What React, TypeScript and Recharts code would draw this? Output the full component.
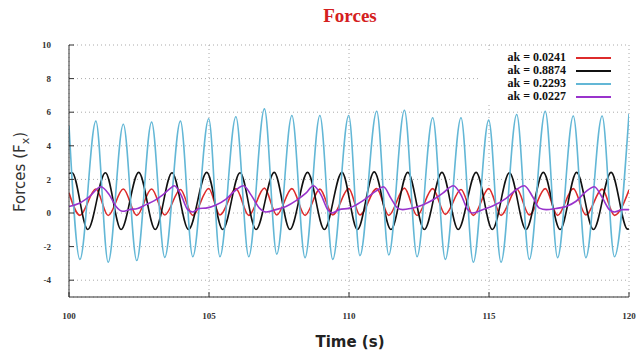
import { FC } from 'react';
import { LineChart, Line, XAxis, YAxis, CartesianGrid, Legend } from 'recharts';

// cyan and red share the same 1 s rhythm
const fastTimes = [100.0, 100.39, 100.96, 101.4, 101.94, 102.42, 102.95, 103.42, 103.98, 104.42, 104.99, 105.39, 105.96, 106.42, 106.98, 107.42, 107.96, 108.43, 108.96, 109.42, 109.99, 110.39, 110.99, 111.42, 111.98, 112.43, 112.99, 113.44, 114.0, 114.44, 114.99, 115.43, 115.99, 116.44, 117.01, 117.45, 118.01, 118.46, 119.04, 119.48, 120.0];
const cyanForce = [5.2, -2.76, 5.47, -2.93, 5.28, -2.83, 5.41, -2.64, 5.47, -2.6, 5.61, -2.6, 5.73, -2.6, 6.2, -2.45, 5.8, -2.66, 5.8, -2.76, 5.8, -2.54, 6.06, -2.5, 6.12, -2.6, 5.67, -2.76, 5.67, -2.93, 5.53, -2.93, 5.86, -2.76, 6.06, -2.66, 5.77, -2.66, 5.77, -2.6, 5.9];
const redForce = [1.2, -0.14, 1.43, -0.15, 1.43, -0.14, 1.43, -0.12, 1.4, -0.14, 1.46, -0.12, 1.45, -0.14, 1.48, -0.12, 1.45, -0.14, 1.42, -0.12, 1.45, -0.12, 1.45, -0.14, 1.48, -0.15, 1.45, -0.08, 1.4, -0.14, 1.45, -0.14, 1.43, -0.12, 1.45, -0.14, 1.45, -0.12, 1.42, -0.14, 1.37];

const blackTimes = [100.0, 100.11, 100.67, 101.3, 101.86, 102.49, 103.08, 103.68, 104.27, 104.92, 105.49, 106.11, 106.68, 107.33, 107.89, 108.52, 109.12, 109.75, 110.3, 110.9, 111.5, 112.1, 112.69, 113.32, 113.9, 114.54, 115.12, 115.73, 116.32, 116.94, 117.54, 118.13, 118.73, 119.36, 119.95, 120.0];
const blackForce = [2.35, 2.4, -0.98, 2.4, -0.98, 2.42, -0.98, 2.4, -0.98, 2.42, -0.98, 2.4, -0.98, 2.42, -0.98, 2.42, -0.98, 2.42, -0.98, 2.45, -0.98, 2.42, -0.98, 2.42, -0.98, 2.42, -0.98, 2.4, -0.98, 2.42, -0.98, 2.42, -0.98, 2.42, -0.96, -0.95];

const purpleTimes = [100.0, 100.37, 100.73, 101.14, 101.44, 101.68, 101.92, 102.15, 102.45, 102.75, 103.05, 103.35, 103.64, 103.76, 104.0, 104.24, 104.42, 104.65, 104.89, 105.25, 105.61, 105.96, 106.23, 106.5, 106.8, 107.04, 107.39, 107.75, 108.11, 108.46, 108.73, 109.0, 109.24, 109.39, 109.65, 110.01, 110.25, 110.61, 110.96, 111.23, 111.5, 111.74, 111.92, 112.21, 112.63, 112.99, 113.35, 113.73, 114.0, 114.24, 114.42, 114.77, 115.13, 115.61, 115.96, 116.26, 116.56, 116.8, 117.04, 117.39, 117.75, 118.11, 118.46, 118.76, 119.06, 119.3, 119.48, 119.77, 120.0];
const purpleForce = [0.39, 0.58, 0.97, 1.56, 1.08, 0.39, 0.1, 0.2, 0.27, 0.5, 0.74, 1.08, 1.5, 1.62, 1.08, 0.2, 0.06, 0.27, 0.29, 0.48, 0.83, 1.37, 1.62, 1.08, 0.29, 0.06, 0.2, 0.39, 0.74, 1.18, 1.62, 1.08, 0.2, 0.0, 0.2, 0.29, 0.48, 0.87, 1.3, 1.56, 0.87, 0.29, 0.2, 0.27, 0.48, 0.77, 1.18, 1.62, 1.08, 0.2, 0.0, 0.2, 0.42, 0.87, 1.37, 1.62, 0.97, 0.29, 0.2, 0.27, 0.39, 0.7, 1.27, 1.56, 0.87, 0.2, 0.06, 0.2, 0.2];

const seriesNames = ['ak = 0.0241', 'ak = 0.8874', 'ak = 0.2293', 'ak = 0.0227'];
const xTicks = [100, 105, 110, 115, 120];
const yTicks = [-4, -2, 0, 2, 4, 6, 8, 10];

const toPoints = (times: number[], forces: number[]) => times.map((t, i) => ({ t, f: forces[i] }));

const redData = toPoints(fastTimes, redForce);
const blackData = toPoints(blackTimes, blackForce);
const cyanData = toPoints(fastTimes, cyanForce);
const purpleData = toPoints(purpleTimes, purpleForce);

const tickFont = { fontFamily: 'Liberation Serif', fontWeight: 'bold', fontSize: 9, fill: '#333' };

const YLabel = () => (
  <text transform="translate(25,172) rotate(-90)" textAnchor="middle" fontFamily="DejaVu Sans" fontSize={15} fill="#333">
    Forces (F<tspan fontSize={11} dy={4}>x</tspan><tspan dy={-4}>)</tspan>
  </text>
);

const XLabel = () => (
  <text x={350} y={347} textAnchor="middle" fontFamily="DejaVu Sans" fontWeight="bold" fontSize={15} fill="#222">
    Time (s)
  </text>
);

const LegendBox = (props: any) => {
  const items = [...(props.payload || [])].sort((a: any, b: any) => seriesNames.indexOf(a.value) - seriesNames.indexOf(b.value));
  return (
    <div style={{ background: '#fff', width: 147, height: 54 }}>
      {items.map((p: any) => (
        <div key={p.value} style={{ display: 'flex', justifyContent: 'flex-end', alignItems: 'center', height: 13, paddingRight: 16 }}>
          <span style={{ fontFamily: 'Liberation Serif', fontWeight: 'bold', fontSize: 12, color: '#111', lineHeight: '13px' }}>{p.value}</span>
          <span style={{ display: 'inline-block', width: 35, marginLeft: 10, borderTop: `2px solid ${p.color}` }} />
        </div>
      ))}
    </div>
  );
};

const ForcesChart: FC = () => {
  return (
    <div style={{ position: 'absolute', left: 0, top: 0, width: 637, height: 352 }}>
      <div style={{ position: 'absolute', left: 290, top: 5, width: 120, textAlign: 'center', fontFamily: 'Liberation Serif', fontWeight: 'bold', fontSize: 19, color: '#d42020', zIndex: 2 }}>
        Forces
      </div>
      <LineChart width={637} height={352} margin={{ top: 45, right: 8, left: 0, bottom: 0 }}>
        <CartesianGrid stroke="#aaa" strokeDasharray="1 3" />
        <XAxis dataKey="t" type="number" domain={[100, 120]} ticks={xTicks} allowDataOverflow height={55}
          stroke="#333" tickSize={-5} tickMargin={21} tick={tickFont} label={<XLabel />} />
        <XAxis xAxisId="top" orientation="top" type="number" domain={[100, 120]} ticks={xTicks} height={0}
          stroke="#333" tickSize={-5} tick={false} />
        <YAxis type="number" domain={[-5, 10]} ticks={yTicks} allowDataOverflow width={69}
          stroke="#333" tickSize={-5} tickMargin={23} tick={tickFont} label={<YLabel />} />
        <YAxis yAxisId="right" orientation="right" type="number" domain={[-5, 10]} ticks={yTicks} width={0}
          stroke="#333" tickSize={-5} tick={false} />
        <Legend content={<LegendBox />} layout="horizontal" verticalAlign="middle" align="center"
          wrapperStyle={{ position: 'absolute', top: 51, left: 480, width: 147, height: 54 }} />
        <Line data={redData} dataKey="f" name={seriesNames[0]} type="monotone" stroke="#dd2b2b" strokeWidth={1.6} dot={false} isAnimationActive={false} />
        <Line data={blackData} dataKey="f" name={seriesNames[1]} type="monotone" stroke="#111111" strokeWidth={1.6} dot={false} isAnimationActive={false} />
        <Line data={cyanData} dataKey="f" name={seriesNames[2]} type="monotone" stroke="#63b7d6" strokeWidth={1.6} dot={false} isAnimationActive={false} />
        <Line data={purpleData} dataKey="f" name={seriesNames[3]} type="monotone" stroke="#9933cc" strokeWidth={1.6} dot={false} isAnimationActive={false} />
      </LineChart>
    </div>
  );
};

export default function App() {
  return <ForcesChart />;
}
